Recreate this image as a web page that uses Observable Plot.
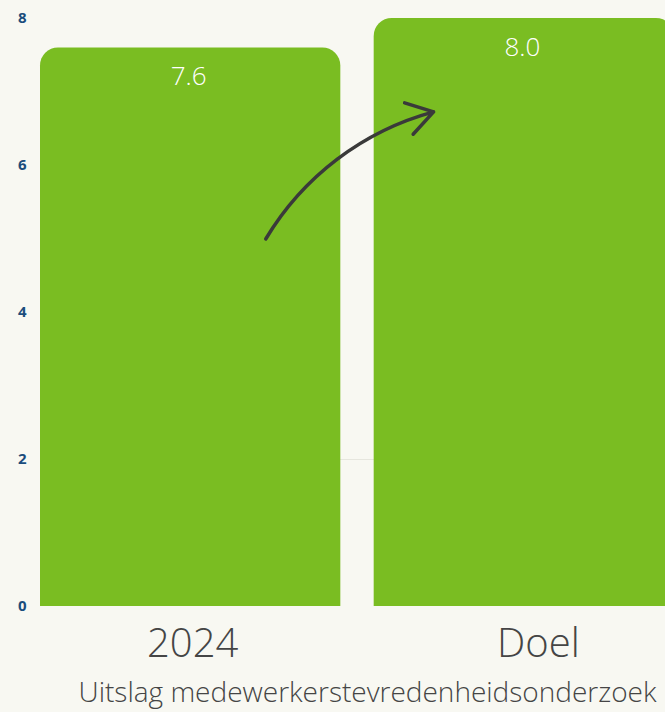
<!DOCTYPE html>
<html>
<head>
<meta charset="utf-8">
<script src="https://cdn.jsdelivr.net/npm/d3@7"></script>
<script src="https://cdn.jsdelivr.net/npm/@observablehq/plot@0.6"></script>
<style>
  html, body { margin: 0; padding: 0; background: #f8f8f2; overflow: hidden; }
  #chart svg { display: block; max-width: none !important; }
</style>
</head>
<body>
<div id="chart"></div>
<script>
const categories = ["2024", "Doel"];
const values = [7.6, 8.0];
const valueLabels = ["7.6", "8.0"];
const yTicks = [0, 2, 4, 6, 8];
const gridTicks = [2];
const caption = "Uitslag medewerkerstevredenheidsonderzoek";
// arrow annotation (data units: x in category index, y in score)
const arrowFrom = {x: 0.225, y: 5.0};
const arrowTo = {x: 0.728, y: 6.73};

const data = categories.map((c, i) => ({i, category: c, value: values[i], label: valueLabels[i]}));
const half = 0.45;
const xLabelStyle = {tickSize: 0, tickPadding: 22, fontSize: 40, fontWeight: 300, fill: "#454545", tickFormat: i => categories[i], label: null};

const chart = Plot.plot({
  width: 674,
  height: 712,
  marginTop: 18,
  marginBottom: 106,
  marginLeft: 40,
  marginRight: 0,
  style: {background: "#f8f8f2", fontFamily: "'Open Sans', sans-serif", overflow: "visible", maxWidth: "none"},
  x: {domain: [-half, 1 + half], axis: null},
  y: {domain: [0, 8], axis: null},
  marks: [
    Plot.gridY(gridTicks, {stroke: "#e6e6de", strokeOpacity: 1}),
    Plot.rectY(data, {x1: d => d.i - half, x2: d => d.i + half, y: "value", fill: "#7abd22", ry2: 18}),
    Plot.axisY(yTicks, {tickSize: 0, tickPadding: 14, fontSize: 15, fontWeight: "bold", fill: "#1b4d7c", tickFormat: d => d, label: null}),
    Plot.axisX([0], {...xLabelStyle, dx: 2}),
    Plot.axisX([1], {...xLabelStyle, dx: 14}),
    Plot.text(data, {x: "i", y: "value", text: "label", fill: "white", fontSize: 26, fontWeight: 300, lineAnchor: "bottom", dy: 37, dx: -2}),
    Plot.arrow([{}], {x1: () => arrowFrom.x, y1: () => arrowFrom.y, x2: () => arrowTo.x, y2: () => arrowTo.y,
      bend: 22, stroke: "#3a3a3a", strokeWidth: 3.5, headLength: 13, headAngle: 65, strokeLinecap: "round", strokeLinejoin: "round"}),
    Plot.text([caption], {frameAnchor: "bottom", text: d => d, fontSize: 28, fontWeight: 300, fill: "#454545", lineAnchor: "bottom", dy: 95, dx: 10})
  ]
});
document.getElementById("chart").appendChild(chart);
</script>
</body>
</html>
